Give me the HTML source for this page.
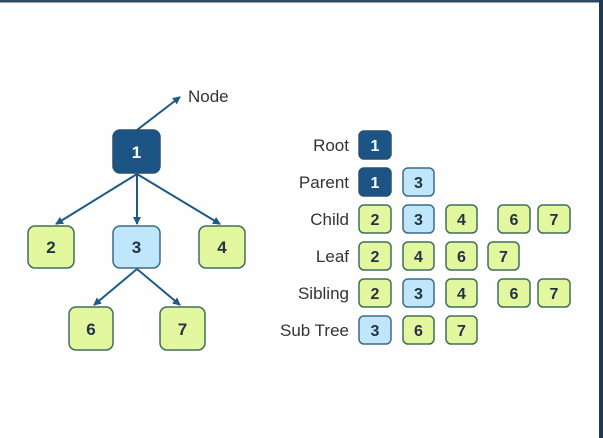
<!DOCTYPE html>
<html><head><meta charset="utf-8"><style>
html,body{margin:0;padding:0;background:#fff;}
svg{display:block;}
text{font-family:"Liberation Sans",sans-serif;}
</style></head><body>
<svg width="603" height="438" viewBox="0 0 603 438" xmlns="http://www.w3.org/2000/svg">
<defs>
<marker id="ah" markerWidth="8" markerHeight="8" refX="7" refY="4" orient="auto" markerUnits="userSpaceOnUse">
<path d="M0,0 L8,4 L0,8 z" fill="#1f5a86"/>
</marker>
</defs>
<rect x="0" y="0" width="603" height="438" fill="#fefefe"/>
<rect x="0" y="0" width="603" height="2.5" fill="#2d4a63"/>
<rect x="599" y="0" width="4" height="438" fill="#1e3a52"/>
<g stroke="#1f5a86" stroke-width="2" fill="none" marker-end="url(#ah)">
<line x1="137" y1="130" x2="180" y2="97"/>
<line x1="137" y1="174" x2="56" y2="224"/>
<line x1="137" y1="174" x2="137" y2="224"/>
<line x1="137" y1="174" x2="220" y2="224"/>
<line x1="137" y1="269" x2="94" y2="305"/>
<line x1="137" y1="269" x2="180" y2="305"/>
</g>
<text x="188" y="102" font-size="17" fill="#333">Node</text>
<g font-size="17" font-weight="bold" text-anchor="middle">
<rect x="113" y="130" width="47" height="43" rx="7" fill="#1b5485" stroke="#2a4f6e" stroke-width="1.5"/>
<text x="136.5" y="158" fill="#fff">1</text>
<rect x="28" y="226" width="46" height="42" rx="7" fill="#e3f79f" stroke="#3f6e5a" stroke-width="1.5"/>
<text x="51" y="253" fill="#234">2</text>
<rect x="113" y="226" width="47" height="42" rx="7" fill="#bfe6fb" stroke="#3c6c8a" stroke-width="1.5"/>
<text x="136.5" y="253" fill="#234">3</text>
<rect x="199" y="226" width="46" height="42" rx="7" fill="#e3f79f" stroke="#3f6e5a" stroke-width="1.5"/>
<text x="222" y="253" fill="#234">4</text>
<rect x="69" y="307" width="44" height="43" rx="7" fill="#e3f79f" stroke="#3f6e5a" stroke-width="1.5"/>
<text x="91" y="335" fill="#234">6</text>
<rect x="160" y="307" width="45" height="43" rx="7" fill="#e3f79f" stroke="#3f6e5a" stroke-width="1.5"/>
<text x="182.5" y="335" fill="#234">7</text>
</g>
<g font-size="17" fill="#333" text-anchor="end">
<text x="349" y="151">Root</text>
<text x="349" y="188">Parent</text>
<text x="349" y="225">Child</text>
<text x="349" y="262">Leaf</text>
<text x="349" y="299">Sibling</text>
<text x="349" y="336">Sub Tree</text>
</g>
<g font-size="16" font-weight="bold" text-anchor="middle" stroke-width="1.5">
<!-- Root -->
<rect x="359" y="131" width="32" height="28" rx="5" fill="#1b5485" stroke="#2a4f6e"/><text x="375" y="151" fill="#fff" stroke="none">1</text>
<!-- Parent -->
<rect x="359" y="168" width="32" height="28" rx="5" fill="#1b5485" stroke="#2a4f6e"/><text x="375" y="188" fill="#fff" stroke="none">1</text>
<rect x="403" y="168" width="31" height="28" rx="5" fill="#bfe6fb" stroke="#3c6c8a"/><text x="418.5" y="188" fill="#234" stroke="none">3</text>
<!-- Child -->
<rect x="359" y="205" width="32" height="28" rx="5" fill="#e3f79f" stroke="#3f6e5a"/><text x="375" y="225" fill="#234" stroke="none">2</text>
<rect x="403" y="205" width="31" height="28" rx="5" fill="#bfe6fb" stroke="#3c6c8a"/><text x="418.5" y="225" fill="#234" stroke="none">3</text>
<rect x="446" y="205" width="31" height="28" rx="5" fill="#e3f79f" stroke="#3f6e5a"/><text x="461.5" y="225" fill="#234" stroke="none">4</text>
<rect x="498" y="205" width="32" height="28" rx="5" fill="#e3f79f" stroke="#3f6e5a"/><text x="514" y="225" fill="#234" stroke="none">6</text>
<rect x="538" y="205" width="32" height="28" rx="5" fill="#e3f79f" stroke="#3f6e5a"/><text x="554" y="225" fill="#234" stroke="none">7</text>
<!-- Leaf -->
<rect x="359" y="242" width="32" height="28" rx="5" fill="#e3f79f" stroke="#3f6e5a"/><text x="375" y="262" fill="#234" stroke="none">2</text>
<rect x="403" y="242" width="31" height="28" rx="5" fill="#e3f79f" stroke="#3f6e5a"/><text x="418.5" y="262" fill="#234" stroke="none">4</text>
<rect x="446" y="242" width="31" height="28" rx="5" fill="#e3f79f" stroke="#3f6e5a"/><text x="461.5" y="262" fill="#234" stroke="none">6</text>
<rect x="488" y="242" width="31" height="28" rx="5" fill="#e3f79f" stroke="#3f6e5a"/><text x="503.5" y="262" fill="#234" stroke="none">7</text>
<!-- Sibling -->
<rect x="359" y="279" width="32" height="28" rx="5" fill="#e3f79f" stroke="#3f6e5a"/><text x="375" y="299" fill="#234" stroke="none">2</text>
<rect x="403" y="279" width="31" height="28" rx="5" fill="#bfe6fb" stroke="#3c6c8a"/><text x="418.5" y="299" fill="#234" stroke="none">3</text>
<rect x="446" y="279" width="31" height="28" rx="5" fill="#e3f79f" stroke="#3f6e5a"/><text x="461.5" y="299" fill="#234" stroke="none">4</text>
<rect x="498" y="279" width="32" height="28" rx="5" fill="#e3f79f" stroke="#3f6e5a"/><text x="514" y="299" fill="#234" stroke="none">6</text>
<rect x="538" y="279" width="32" height="28" rx="5" fill="#e3f79f" stroke="#3f6e5a"/><text x="554" y="299" fill="#234" stroke="none">7</text>
<!-- Sub Tree -->
<rect x="359" y="316" width="32" height="28" rx="5" fill="#bfe6fb" stroke="#3c6c8a"/><text x="375" y="336" fill="#234" stroke="none">3</text>
<rect x="403" y="316" width="31" height="28" rx="5" fill="#e3f79f" stroke="#3f6e5a"/><text x="418.5" y="336" fill="#234" stroke="none">6</text>
<rect x="446" y="316" width="31" height="28" rx="5" fill="#e3f79f" stroke="#3f6e5a"/><text x="461.5" y="336" fill="#234" stroke="none">7</text>
</g>
</svg>
</body></html>
